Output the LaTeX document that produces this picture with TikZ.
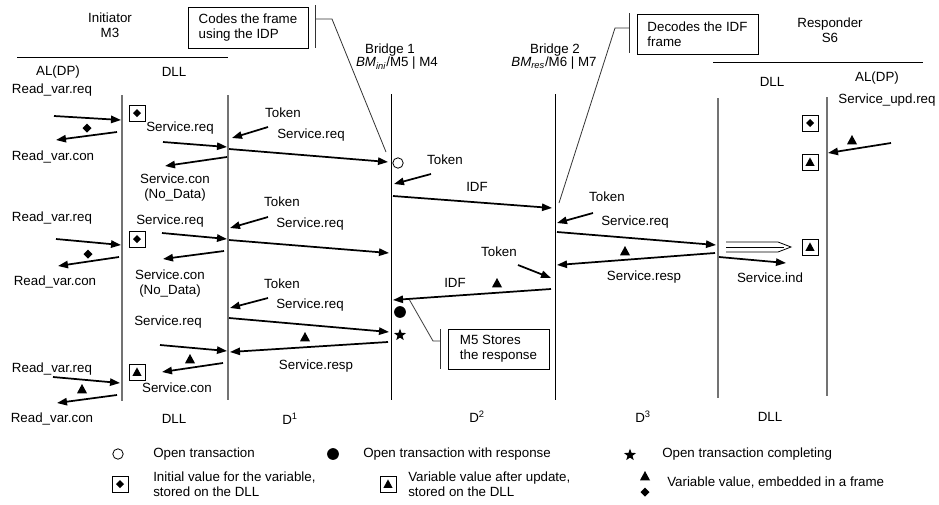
\documentclass[tikz,border=0pt]{standalone}
\usepackage{fontspec}
\setmainfont{Liberation Sans}
\usetikzlibrary{arrows.meta,shapes.geometric}

% message arrow between two named end points
\newcommand\msg[3]{\coordinate (#1s) at (#2); \coordinate (#1e) at (#3); \draw[msg] (#1s) -- (#1e);}
% text label
\newcommand\txt[3]{\node[lbl] (#1) at (#2) {#3};}
% value markers
\newcommand\dmd[2][4.5]{\fill (#2) +(0,-#1) -- +(#1,0) -- +(0,#1) -- +(-#1,0) -- cycle;}
\newcommand\tri[2][5]{\fill (#2) +(0,-#1) -- +(#1,0.85*#1) -- +(-#1,0.85*#1) -- cycle;}
\newcommand\boxdmd[1]{\draw[line width=0.7pt] (#1) +(-8,-8) rectangle +(8,8); \dmd[4]{#1}}
\newcommand\boxtri[1]{\draw[line width=0.7pt] (#1) +(-8,-8) rectangle +(8,8); \tri[4.6]{#1}}

\begin{document}
\begin{tikzpicture}[x=0.75pt,y=-0.75pt,
  msg/.style={line width=1.3pt,-{Triangle[length=7.5pt,width=5.5pt]}},
  lbl/.style={font=\fontsize{10}{11.25}\selectfont, inner sep=0pt, align=center},
  life/.style={draw=black!55, line width=1.1pt},
  bridge/.style={line width=0.6pt},
  callout/.style={line width=0.6pt, draw=black!80},
  note/.style={draw, line width=0.6pt, font=\fontsize{10}{11.5}\selectfont,
    align=left, inner sep=0pt},
  starmark/.style={star, star points=5, star point ratio=2.4, fill, inner sep=0pt, minimum size=9.5pt}]
\useasboundingbox (0,0) rectangle (939,504);

% ---------- headers ----------
\txt{hini}{110,25.5}{Initiator\\M3}
\draw[line width=0.7pt] (17,57) -- (228,57);
\txt{alL}{58,72}{AL(DP)}
\txt{dllL}{174,72}{DLL}

\txt{hb1a}{390,50}{Bridge 1}
\txt{hb1b}{397,63.5}{\textit{BM}\textsubscript{\textit{ini}}/M5 | M4}
\txt{hb2a}{555,50}{Bridge 2}
\txt{hb2b}{554,63.5}{\textit{BM}\textsubscript{\textit{res}}/M6 | M7}

\txt{hres}{830,30}{Responder\\S6}
\draw[line width=0.7pt] (713,62) -- (923,62);
\txt{dllR}{772,82}{DLL}
\txt{alR}{877,78}{AL(DP)}
\txt{supd}{887,100}{Service\_upd.req}

% ---------- life lines ----------
\draw[life] (122,95) -- (122,401);
\draw[life] (228,95) -- (228,400);
\draw[bridge] (391,94) -- (391,400);
\draw[bridge] (555,94) -- (555,400);
\draw[life] (718,98) -- (718,398);
\draw[life] (827,97) -- (827,396);

% ---------- notes ----------
\node[note, minimum width=90pt, minimum height=30.75pt] (n1) at (248,27.5) {Codes the frame\\using the IDP};
\coordinate (c1a) at (315,5); \coordinate (c1b) at (315,48);
\coordinate (c1c) at (315,19); \coordinate (c1d) at (332,19); \coordinate (c1e) at (386,152);
\draw[callout] (c1a) -- (c1b);
\draw[callout] (c1c) -- (c1d) -- (c1e);

\node[note, minimum width=90.75pt, minimum height=30pt] (n2) at (697.5,34) {Decodes the IDF\\frame};
\coordinate (c2a) at (629,13); \coordinate (c2b) at (629,53);
\coordinate (c2c) at (629,28); \coordinate (c2d) at (615,28); \coordinate (c2e) at (559,203);
\draw[callout] (c2a) -- (c2b);
\draw[callout] (c2c) -- (c2d) -- (c2e);

\node[note, minimum width=75.75pt, minimum height=30pt] (n3) at (498.5,349) {M5 Stores\\the response};
\coordinate (c3a) at (440,329); \coordinate (c3b) at (440,369);
\coordinate (c3c) at (440,341); \coordinate (c3d) at (433,341); \coordinate (c3e) at (409,299);
\draw[callout] (c3a) -- (c3b);
\draw[callout] (c3c) -- (c3d) -- (c3e);

% ---------- first read ----------
\txt{r1}{52,90}{Read\_var.req}
\msg{a1}{54,116}{121,120}
\msg{a2}{117,132}{56,140}
\dmd{87,128}
\txt{r2}{53,157}{Read\_var.con}
\boxdmd{137,113}
\txt{r3}{180,128}{Service.req}
\msg{a3}{163,142}{227,147}
\msg{a4}{227,157}{165,166}
\txt{r4}{175,187.5}{Service.con\\(No\_Data)}
\txt{r5}{283,113}{Token}
\msg{a5}{268,127}{232,138}
\txt{r6}{311,135}{Service.req}
\msg{a6}{229,149}{388,162}
\draw[line width=0.6pt] (398,163) circle[radius=3.9pt];

% bridge 1 -> bridge 2 -> responder
\txt{r7}{445,160}{Token}
\msg{a7}{431,174}{394,184}
\txt{r8}{477,187}{IDF}
\msg{a8}{393,196}{552,208}
\txt{r9}{607,197}{Token}
\msg{a9}{593,213}{557,223}
\txt{r10}{635,222}{Service.req}
\msg{a10}{557,232}{716,245}
\tri{625,251}
\msg{a11}{715,253}{557,265}
\txt{r11}{644,277}{Service.resp}
\msg{a12}{719,257}{786,263}
\txt{r12}{770,278}{Service.ind}
\coordinate (h1) at (726,242); \coordinate (h2) at (778,242); \coordinate (h3) at (791,247);
\coordinate (h4) at (778,252); \coordinate (h5) at (726,252);
\draw[line width=0.6pt] (h1) -- (h2) -- (h3) -- (h4) -- (h5);
\draw[line width=0.6pt] (726,247) -- (784,247);
\boxtri{810,247}

% responder application update
\boxdmd{810,123}
\boxtri{810,162}
\msg{a15}{891,143}{828,153}
\tri{852,140}

% bridge 2 -> bridge 1 with response
\txt{r13}{499,252}{Token}
\msg{a13}{518,265}{551,278}
\txt{r14}{455,283}{IDF}
\tri{497,283}
\msg{a14}{551,289}{393,300}
\fill (400,312) circle[radius=4.4pt];
\node[starmark] (st) at (400,335) {};

% ---------- second read ----------
\txt{s1}{52,218}{Read\_var.req}
\msg{b1}{56,239}{121,245}
\boxdmd{137,239}
\dmd{88,254}
\msg{b2}{119,257}{58,266}
\txt{s2}{55,282}{Read\_var.con}
\txt{s3}{170,221}{Service.req}
\msg{b3}{162,233}{227,239}
\msg{b4}{224,251}{163,259}
\txt{s4}{170,284}{Service.con\\(No\_Data)}
\txt{s5}{282,202}{Token}
\msg{b5}{268,217}{230,228}
\txt{s6}{310,224}{Service.req}
\msg{b6}{229,240}{389,253}

% ---------- third read ----------
\txt{s7}{282,284}{Token}
\msg{b7}{268,298}{230,308}
\txt{s8}{310,305}{Service.req}
\msg{b8}{229,318}{389,332}
\txt{s9}{168,322}{Service.req}
\msg{b9}{160,345}{227,351}
\tri{305,337}
\msg{b10}{388,342}{230,352}
\txt{s10}{316,366}{Service.resp}
\tri{190,359}
\msg{b11}{223,363}{162,372}
\boxtri{137,372}
\txt{s11}{177,388}{Service.con}
\txt{s12}{52,369}{Read\_var.req}
\msg{b12}{53,377}{120,383}
\tri{82,389}
\msg{b13}{117,395}{57,403}
\txt{s13}{52,419}{Read\_var.con}

% ---------- domain labels ----------
\txt{d0}{174,419}{DLL}
\txt{d1}{290,419}{D\textsuperscript{1}}
\txt{d2}{477,417}{D\textsuperscript{2}}
\txt{d3}{643,417}{D\textsuperscript{3}}
\txt{d4}{770,417}{DLL}

% ---------- legend ----------
\draw[line width=0.6pt] (118,454) circle[radius=3.9pt];
\node[lbl, anchor=west] (l1) at (153,454) {Open transaction};
\fill (333,454) circle[radius=4.4pt];
\node[lbl, anchor=west] (l2) at (363,454) {Open transaction with response};
\node[starmark] (ls) at (630,455) {};
\node[lbl, anchor=west] (l3) at (662,454) {Open transaction completing};
\boxdmd{120,484}
\node[lbl, anchor=west, align=left] (l4) at (153,484) {Initial value for the variable,\\stored on the DLL};
\boxtri{388,484}
\node[lbl, anchor=west, align=left] (l5) at (408,484) {Variable value after update,\\stored on the DLL};
\tri{645,476}
\dmd{645,492}
\node[lbl, anchor=west] (l6) at (667,483) {Variable value, embedded in a frame};
\end{tikzpicture}
\end{document}
